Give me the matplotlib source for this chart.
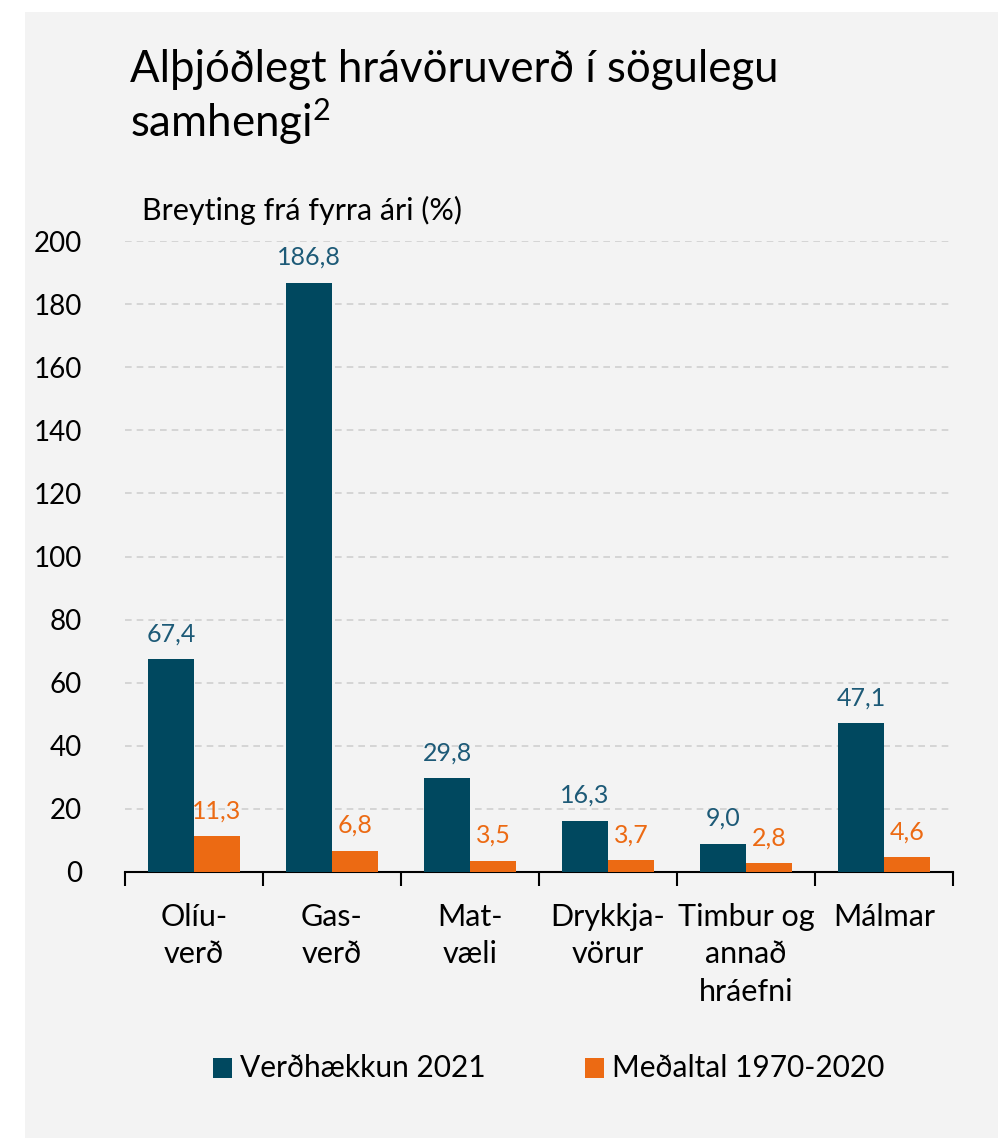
import matplotlib
matplotlib.use("Agg")
import matplotlib.pyplot as plt
from matplotlib.patches import Rectangle
import numpy as np

categories = ["Olíu-\nverð", "Gas-\nverð", "Mat-\nvæli", "Drykkja-\nvörur", "Timbur og\nannað\nhráefni", "Málmar"]
series_names = ["Verðhækkun 2021", "Meðaltal 1970-2020"]
values_2021 = [67.4, 186.8, 29.8, 16.3, 9.0, 47.1]
values_avg = [11.3, 6.8, 3.5, 3.7, 2.8, 4.6]
yticks = [0, 20, 40, 60, 80, 100, 120, 140, 160, 180, 200]

BLUE = "#00485f"
BLUE_TXT = "#1d5a77"
ORANGE = "#ec6a13"
BG = "#f3f3f3"

plt.rcParams['font.family'] = ['Lato', 'DejaVu Sans']
plt.rcParams['mathtext.fontset'] = 'custom'
plt.rcParams['mathtext.rm'] = 'Lato'
plt.rcParams['mathtext.it'] = 'Lato'
plt.rcParams['mathtext.bf'] = 'Lato'

W, H = 998, 1138
fig = plt.figure(figsize=(W / 100, H / 100), dpi=100)
fig.patch.set_facecolor("white")
fig.patches.append(Rectangle((25 / W, 0), 1 - 25 / W, 1 - 12 / H, transform=fig.transFigure,
                             facecolor=BG, edgecolor="none", zorder=-10))

ax = fig.add_axes([125 / W, 1 - 872 / H, (953 - 125) / W, (872 - 241) / H])
ax.set_facecolor(BG)
ax.patch.set_alpha(0)

x = np.arange(len(categories))
w = 1 / 3
ax.bar(x - w / 2, values_2021, width=w, color=BLUE, zorder=3)
ax.bar(x + w / 2, values_avg, width=w, color=ORANGE, zorder=3)

def fmt(v):
    return f"{v:.1f}".replace(".", ",")

for xi, v in zip(x - w / 2, values_2021):
    ax.annotate(fmt(v), (xi, v), xytext=(0, 10), textcoords="offset points",
                ha="center", va="bottom", color=BLUE_TXT, fontsize=18, clip_on=False)
for xi, v in zip(x + w / 2, values_avg):
    ax.annotate(fmt(v), (xi, v), xytext=(0, 10), textcoords="offset points",
                ha="center", va="bottom", color=ORANGE, fontsize=18, clip_on=False)

ax.set_xlim(-0.5, len(categories) - 0.5)
ax.set_ylim(0, 200)
ax.set_yticks(yticks)
ax.set_yticklabels([str(t) for t in yticks], fontsize=20)
ax.tick_params(axis="y", length=0, pad=31)
ax.yaxis.grid(True, color="#d0d0d0", linestyle=(0, (4, 3)), linewidth=1.2, zorder=0)
ax.set_axisbelow(True)

ax.set_xticks(x)
ax.set_xticklabels(categories, fontsize=22, linespacing=1.42, va="top")
ax.tick_params(axis="x", length=0, pad=22)
ax.set_xticks(np.arange(-0.5, len(categories)), minor=True)
ax.tick_params(axis="x", which="minor", length=10, width=1.5, color="black", direction="out")

for s in ["top", "right", "left"]:
    ax.spines[s].set_visible(False)
ax.spines["bottom"].set_linewidth(1.5)
ax.spines["bottom"].set_color("black")

fig.text(130 / W, 1 - 82 / H, "Alþjóðlegt hrávöruverð í sögulegu", fontsize=31.5,
         ha="left", va="baseline")
fig.text(130 / W, 1 - 137 / H, r"samhengi$^{\mathrm{2}}$", fontsize=31.5, ha="left", va="baseline")
fig.text(142 / W, 1 - 210 / H, "Breyting frá fyrra ári (%)", fontsize=22, ha="left", va="center")

# legend
leg_items = [(213, BLUE, series_names[0]), (585, ORANGE, series_names[1])]
for px, col, name in leg_items:
    fig.patches.append(Rectangle((px / W, 1 - 1078 / H), 19 / W, 20 / H, transform=fig.transFigure,
                                 facecolor=col, edgecolor="none"))
    fig.text((px + 27) / W, 1 - 1068 / H, name, fontsize=21.5, ha="left", va="center")

fig.savefig("out.png", dpi=100, facecolor="white")
